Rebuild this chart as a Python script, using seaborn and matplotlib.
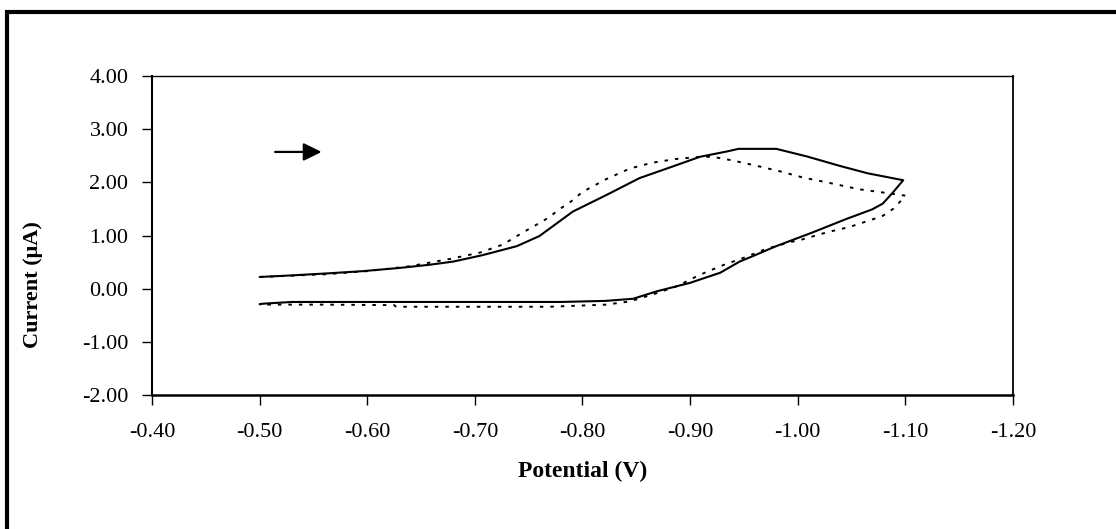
import matplotlib
matplotlib.use("Agg")
import matplotlib.pyplot as plt
from matplotlib.patches import Rectangle
import seaborn as sns
import pandas as pd

# Cyclic voltammograms: forward scan (upper branch) then return scan (lower branch)
solid_potential = [
    -0.500, -0.530, -0.565, -0.596, -0.630, -0.658, -0.680, -0.707, -0.739, -0.760,
    -0.791, -0.823, -0.853, -0.884, -0.909, -0.934, -0.945, -0.980, -1.008, -1.039,
    -1.065, -1.098,
    -1.088, -1.079, -1.069, -1.045, -1.014, -0.980, -0.958, -0.946, -0.928, -0.900,
    -0.869, -0.847, -0.821, -0.780, -0.700, -0.600, -0.530, -0.505, -0.500,
]
solid_current = [
    0.22, 0.25, 0.29, 0.33, 0.39, 0.45, 0.51, 0.63, 0.80, 0.99,
    1.45, 1.77, 2.08, 2.30, 2.48, 2.58, 2.63, 2.63, 2.49, 2.31,
    2.17, 2.04,
    1.80, 1.60, 1.49, 1.31, 1.06, 0.80, 0.61, 0.51, 0.30, 0.11,
    -0.05, -0.19, -0.23, -0.25, -0.25, -0.25, -0.25, -0.28, -0.29,
]

dotted_potential = [
    -0.500, -0.560, -0.600, -0.639, -0.677, -0.705, -0.726, -0.744, -0.757, -0.768,
    -0.779, -0.790, -0.800, -0.822, -0.844, -0.865, -0.887, -0.909, -0.921, -0.940,
    -0.962, -0.983, -1.005, -1.027, -1.057, -1.079, -1.100,
    -1.090, -1.079, -1.069, -1.048, -1.027, -1.005, -0.992, -0.971, -0.951, -0.929,
    -0.909, -0.887, -0.865, -0.844, -0.822, -0.769, -0.700, -0.627, -0.625, -0.560,
    -0.500,
]
dotted_current = [
    0.22, 0.27, 0.33, 0.42, 0.56, 0.68, 0.83, 1.05, 1.20, 1.33,
    1.50, 1.65, 1.82, 2.06, 2.26, 2.37, 2.44, 2.48, 2.48, 2.41,
    2.31, 2.21, 2.09, 2.00, 1.87, 1.81, 1.75,
    1.52, 1.37, 1.30, 1.16, 1.06, 0.93, 0.87, 0.75, 0.59, 0.43,
    0.26, 0.04, -0.11, -0.24, -0.30, -0.34, -0.34, -0.34, -0.31, -0.30,
    -0.30,
]

x_ticks = [-0.40, -0.50, -0.60, -0.70, -0.80, -0.90, -1.00, -1.10, -1.20]
y_ticks = [-2.00, -1.00, 0.00, 1.00, 2.00, 3.00, 4.00]

sns.set_theme(style="ticks")
plt.rcParams["font.family"] = ["Liberation Serif", "DejaVu Serif"]

fig = plt.figure(figsize=(11.16, 5.29), dpi=100)
ax = fig.add_axes([0.1362, 0.2533, 0.7715, 0.6030])

solid_df = pd.DataFrame({"potential": solid_potential, "current": solid_current})
dotted_df = pd.DataFrame({"potential": dotted_potential, "current": dotted_current})

sns.lineplot(data=solid_df, x="potential", y="current", sort=False, estimator=None,
             color="black", linewidth=1.5, ax=ax)
sns.lineplot(data=dotted_df, x="potential", y="current", sort=False, estimator=None,
             color="black", linewidth=1.4, linestyle=(0, (1.8, 3.6)), ax=ax)

ax.set_xlim(-0.40, -1.20)
ax.set_ylim(-2.0, 4.0)
ax.set_xticks(x_ticks)
ax.set_yticks(y_ticks)
ax.set_xticklabels([f"{v:.2f}" for v in x_ticks])
ax.set_yticklabels([f"{v:.2f}" for v in y_ticks])
ax.tick_params(axis="both", direction="out", length=7, width=1.0, colors="black",
               labelsize=16)
ax.tick_params(axis="x", pad=13)
ax.tick_params(axis="y", pad=10)

for side in ["left", "bottom", "top", "right"]:
    ax.spines[side].set_visible(True)
    ax.spines[side].set_color("black")
ax.spines["left"].set_linewidth(1.5)
ax.spines["bottom"].set_linewidth(1.8)
ax.spines["top"].set_linewidth(1.0)
ax.spines["right"].set_linewidth(1.3)

ax.set_xlabel("Potential (V)", fontsize=17, fontweight="bold", color="black")
ax.set_ylabel("Current (\u03bcA)", fontsize=16, fontweight="bold", color="black")
ax.xaxis.set_label_coords(0.5, -0.205)
ax.yaxis.set_label_coords(-0.127, 0.345)

# scan direction arrow
ax.annotate("", xy=(0.197, 0.762), xytext=(0.143, 0.762),
            xycoords="axes fraction", textcoords="axes fraction",
            arrowprops=dict(arrowstyle="-|>,head_length=0.55,head_width=0.27",
                            color="black", lw=1.6, mutation_scale=20,
                            shrinkA=0, shrinkB=0))

# frame around the whole figure
fig.add_artist(Rectangle((0.0063, -0.1), 1.2, 0.9764 + 0.1, transform=fig.transFigure,
                         fill=False, edgecolor="black", linewidth=3.0, clip_on=False))

fig.savefig("out.png", dpi=100, facecolor="white")
